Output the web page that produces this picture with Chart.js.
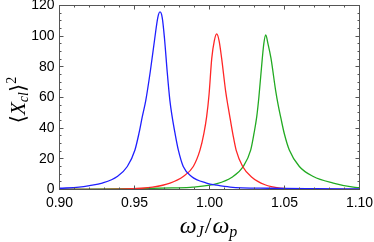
<!DOCTYPE html>
<html><head><meta charset="utf-8">
<script src="https://cdn.jsdelivr.net/npm/chart.js@4.4.0/dist/chart.umd.min.js"></script>
<style>html,body{margin:0;padding:0;background:#fff;}</style>
</head><body>
<canvas id="c" width="374" height="242"></canvas>
<script>
const xTicks = [0.90, 0.95, 1.00, 1.05, 1.10];
const yTicks = [0, 20, 40, 60, 80, 100, 120];

const blueX = [0.900, 0.913, 0.920, 0.9285, 0.9385, 0.9452, 0.9503, 0.953, 0.9552, 0.9575, 0.9605, 0.9635, 0.9655, 0.967, 0.9685, 0.970, 0.9718, 0.9736, 0.9751, 0.977, 0.9792, 0.9825, 0.988, 0.998, 1.005, 1.0137, 1.04, 1.07, 1.10];
const blueY = [0.8, 1.5, 2.5, 4.2, 8.5, 15.0, 25.8, 36.7, 47.5, 58.0, 76.8, 98.5, 112, 115.8, 112, 98.5, 76.8, 58, 47.5, 36.7, 25.8, 15.0, 8.5, 4.2, 2.8, 1.6, 0.8, 0.5, 0.4];

const redX = [0.900, 0.940, 0.955, 0.962, 0.9737, 0.9825, 0.9892, 0.9937, 0.9963, 0.9981, 0.9997, 1.0015, 1.0032, 1.0048, 1.0064, 1.0081, 1.0108, 1.0124, 1.0138, 1.0156, 1.0178, 1.0221, 1.028, 1.037, 1.047, 1.060, 1.100];
const redY = [0.1, 0.3, 0.8, 1.5, 4.2, 8.5, 15.0, 25.8, 36.7, 47.5, 62, 85.5, 97, 101.5, 97, 85.5, 63.8, 54, 46, 36.0, 25.5, 15.0, 8.2, 3.1, 0.9, 0.3, 0.1];

const greenX = [0.900, 0.950, 0.975, 0.989, 1.005, 1.015, 1.0225, 1.0275, 1.0297, 1.0315, 1.0329, 1.0352, 1.0362, 1.0375, 1.039, 1.041, 1.0441, 1.0458, 1.0476, 1.0498, 1.0532, 1.0599, 1.0692, 1.0825, 1.0959, 1.100];
const greenY = [0.2, 0.5, 1.0, 1.5, 3.8, 8.0, 15.0, 25.8, 36.7, 47.5, 60, 85.5, 95, 100.8, 95, 85.5, 64.5, 55, 46.5, 36.7, 25.8, 15.0, 8.5, 4.2, 1.5, 1.2];

function pts(xs, ys) { return xs.map((x, i) => ({ x: x, y: ys[i] })); }

const SERIF = "'Liberation Serif', 'DejaVu Serif', serif";
const SANS = "'Liberation Sans', Arial, sans-serif";

function drawParts(ctx, parts, cx, baseY) {
  let total = 0;
  parts.forEach(p => { ctx.font = p.f; p.w = ctx.measureText(p.t).width; total += p.w + (p.gap || 0); });
  let x = cx - total / 2;
  parts.forEach(p => {
    ctx.font = p.f;
    ctx.fillText(p.t, x, baseY + (p.dy || 0));
    x += p.w + (p.gap || 0);
  });
}

const framePlugin = {
  id: 'frame',
  afterDraw(chart) {
    const { ctx, chartArea: a, scales } = chart;
    const xs = scales.x, ys = scales.y;
    ctx.save();
    ctx.strokeStyle = '#555';
    ctx.lineWidth = 1;
    ctx.strokeRect(a.left, a.top, a.right - a.left, a.bottom - a.top);
    ctx.beginPath();
    for (let i = 0; i <= 20; i++) {
      const v = 0.9 + i * 0.01;
      const p = Math.round(xs.getPixelForValue(v) - 0.5) + 0.5;
      const L = (i % 5 === 0) ? 4 : 2;
      ctx.moveTo(p, a.bottom); ctx.lineTo(p, a.bottom - L);
      ctx.moveTo(p, a.top); ctx.lineTo(p, a.top + L);
    }
    for (let i = 0; i <= 24; i++) {
      const v = i * 5;
      const p = Math.round(ys.getPixelForValue(v) - 0.5) + 0.5;
      const L = (i % 4 === 0) ? 4 : 2;
      ctx.moveTo(a.left, p); ctx.lineTo(a.left + L, p);
      ctx.moveTo(a.right, p); ctx.lineTo(a.right - L, p);
    }
    ctx.stroke();

    ctx.fillStyle = '#000';
    // tick labels
    ctx.font = '14px ' + SANS;
    ctx.textBaseline = 'middle';
    ctx.textAlign = 'center';
    xTicks.forEach(v => ctx.fillText(v.toFixed(2), xs.getPixelForValue(v), 203));
    ctx.textAlign = 'right';
    yTicks.forEach(v => ctx.fillText(String(v), a.left - 5, ys.getPixelForValue(v)));

    ctx.textBaseline = 'alphabetic';
    ctx.textAlign = 'left';
    // x title
    drawParts(ctx, [
      { t: 'ω', f: 'italic 24px ' + SERIF },
      { t: 'J', f: 'italic 16px ' + SERIF, dy: 4, gap: 1 },
      { t: '/', f: '24px ' + SERIF, gap: 1 },
      { t: 'ω', f: 'italic 24px ' + SERIF },
      { t: 'p', f: 'italic 16px ' + SERIF, dy: 4 }
    ], 208.5, 233);
    // y title
    ctx.save();
    ctx.translate(25, 100);
    ctx.rotate(-Math.PI / 2);
    drawParts(ctx, [
      { t: '⟨', f: '21px ' + SERIF },
      { t: 'X', f: 'italic 21px ' + SERIF },
      { t: 'cl', f: 'italic 14px ' + SERIF, dy: 3 },
      { t: '⟩', f: '21px ' + SERIF },
      { t: '2', f: '14px ' + SERIF, dy: -9 }
    ], 0, 0);
    ctx.restore();
    ctx.restore();
  }
};

const ds = (label, xs, ys, color) => ({
  label: label, data: pts(xs, ys), borderColor: color, backgroundColor: color,
  borderWidth: 1.3, pointRadius: 0, fill: false, cubicInterpolationMode: 'monotone'
});

new Chart(document.getElementById('c'), {
  type: 'line',
  data: {
    datasets: [
      ds('blue', blueX, blueY, '#1f1fff'),
      ds('red', redX, redY, '#ff2626'),
      ds('green', greenX, greenY, '#22aa22')
    ]
  },
  options: {
    responsive: false, animation: false, devicePixelRatio: 1,
    parsing: false,
    layout: { padding: { top: 5.5, right: 14.5, left: 0, bottom: 0 } },
    plugins: { legend: { display: false }, tooltip: { enabled: false } },
    scales: {
      x: {
        type: 'linear', min: 0.9, max: 1.1,
        grid: { display: false }, border: { display: false },
        ticks: { display: false },
        afterFit: s => { s.height = 52.5; s.paddingLeft = 0; s.paddingRight = 0; }
      },
      y: {
        type: 'linear', min: 0, max: 120,
        grid: { display: false }, border: { display: false },
        ticks: { display: false },
        afterFit: s => { s.width = 59.5; s.paddingTop = 0; s.paddingBottom = 0; }
      }
    }
  },
  plugins: [framePlugin]
});
</script>
</body></html>
